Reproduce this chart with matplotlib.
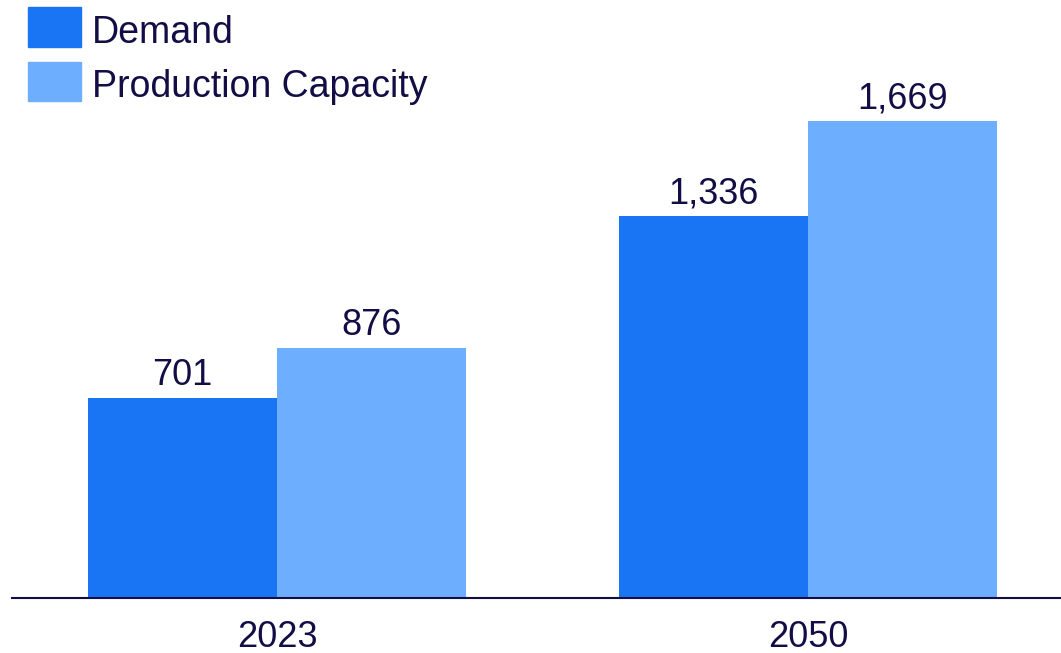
import matplotlib
matplotlib.use("Agg")
import matplotlib.pyplot as plt
from matplotlib.patches import Rectangle

years = ["2023", "2050"]
demand = [701, 1336]
capacity = [876, 1669]
series_names = ["Demand", "Production Capacity"]

DEMAND_COLOR = "#1a75f5"
CAPACITY_COLOR = "#6daeff"
TEXT_COLOR = "#120d45"

plt.rcParams["font.family"] = ["Liberation Sans", "DejaVu Sans"]

fig = plt.figure(figsize=(10.61, 6.53), dpi=100)
ax = fig.add_axes([12 / 1061, 55 / 653, 1 - 12 / 1061, 598 / 653])

x = list(range(len(years)))
width = 0.356
bars_d = ax.bar([i - width / 2 for i in x], demand, width, color=DEMAND_COLOR)
bars_c = ax.bar([i + width / 2 for i in x], capacity, width, color=CAPACITY_COLOR)

for bars, vals in ((bars_d, demand), (bars_c, capacity)):
    for b, v in zip(bars, vals):
        ax.annotate(f"{v:,}", (b.get_x() + b.get_width() / 2, v),
                    xytext=(0, 9), textcoords="offset points",
                    ha="center", va="baseline", fontsize=26, color=TEXT_COLOR)

ax.set_xlim(-0.499, 1.476)
ax.set_ylim(0, 2092)
ax.set_xticks(x)
ax.set_xticklabels(years, fontsize=26, color=TEXT_COLOR)
ax.tick_params(axis="x", length=0, pad=16)
ax.set_yticks([])
for s in ("top", "right", "left"):
    ax.spines[s].set_visible(False)
ax.spines["bottom"].set_color(TEXT_COLOR)
ax.spines["bottom"].set_linewidth(1.5)

# Legend drawn as swatches plus text in figure pixels
W, H = 1061, 653
for (y0, y1), name, col in zip([(7, 47), (62, 101)], series_names,
                               [DEMAND_COLOR, CAPACITY_COLOR]):
    fig.patches.append(Rectangle((28 / W, 1 - y1 / H), 53 / W, (y1 - y0) / H,
                                 transform=fig.transFigure, color=col))
    fig.text(92 / W, 1 - (y1 - 4) / H, name, fontsize=27,
             color=TEXT_COLOR, va="baseline", ha="left")

fig.savefig("out.png", dpi=100)
